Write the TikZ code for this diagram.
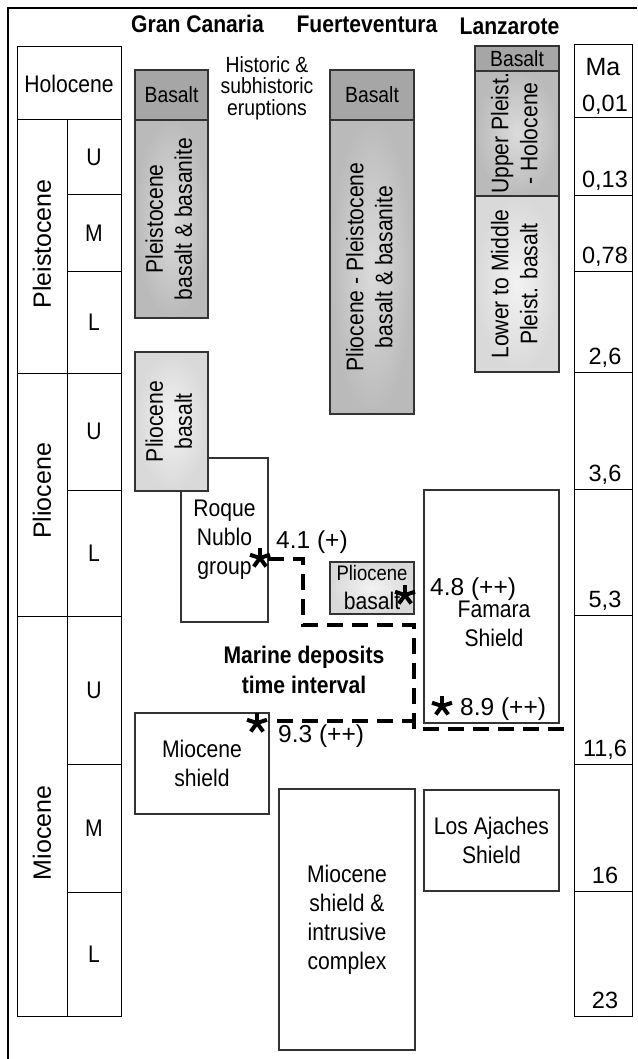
\documentclass[tikz,border=0pt]{standalone}
\usepackage{fontspec}
\setmainfont{Liberation Sans}[FakeStretch=0.88]
\newfontfamily\widefont{Liberation Sans}
\usepackage{graphicx}
\newcommand{\rottext}[1]{\rotatebox{90}{\begin{tabular}{@{}c@{}}#1\end{tabular}}}
\newcommand{\bx}[7]{\node[#1, minimum width={(#5-#3)*1pt}, minimum height={(#6-#4)*1pt}] (#2) at ({(#3+#5)/2},{(#4+#6)/2}) {#7};}
\tikzset{
  cell/.style={draw=black, line width=1pt, inner sep=0pt, outer sep=0pt, align=center, font=\fontsize{24}{29}\selectfont},
  unit/.style={draw=black!80, line width=1.3pt, inner sep=0pt, outer sep=0pt, align=center, font=\fontsize{24}{29}\selectfont},
  darkunit/.style={unit, fill=black!35, font=\fontsize{22}{26}\selectfont},
  medunit/.style={unit, inner color=black!14, outer color=black!27},
  lightunit/.style={unit, inner color=black!5, outer color=black!15},
  whiteunit/.style={unit, fill=white},
  head/.style={inner sep=0pt, font=\bfseries\fontsize{24}{29}\selectfont},
  epoch/.style={inner sep=0pt, font=\widefont\fontsize{25}{30}\selectfont},
  numlab/.style={inner sep=0pt, anchor=base, font=\widefont\fontsize{23.5}{27}\selectfont},
  agelab/.style={inner sep=0pt, anchor=base west, font=\widefont\fontsize{24.5}{28}\selectfont},
  plain/.style={inner sep=0pt, align=center, font=\fontsize{24}{29}\selectfont},
  dashline/.style={line width=3.3pt, dash pattern=on 16pt off 9pt},
  aster/.pic={\foreach \a in {90,162,18,234,306} \draw[line width=4pt] (0,0) -- (\a:10.5pt);}
}
\begin{document}
\begin{tikzpicture}[x=1pt,y=-1pt]
\useasboundingbox (0,0) rectangle (637,1059);
\fill[white] (0,0) rectangle (637,1059);
\draw[line width=2.5pt] (8,1059) -- (8,8) -- (637,8);

% headings
\node[head, anchor=base] (hgc) at (197.5,33) {Gran Canaria};
\node[head, anchor=base] (hfv) at (367,33) {Fuerteventura};
\node[head, anchor=base] (hlz) at (509.5,35) {Lanzarote};

% time scale (left)
\bx{cell}{holo}{17}{47}{121}{120}{Holocene}
\bx{cell}{pleis}{17}{120}{67}{373}{}
\bx{cell}{pleisU}{67}{120}{121}{195}{U}
\bx{cell}{pleisM}{67}{195}{121}{271}{M}
\bx{cell}{pleisL}{67}{271}{121}{373}{L}
\bx{cell}{plio}{17}{373}{67}{616}{}
\bx{cell}{plioU}{67}{373}{121}{490}{U}
\bx{cell}{plioL}{67}{490}{121}{616}{L}
\bx{cell}{mio}{17}{616}{67}{1016}{}
\bx{cell}{mioU}{67}{616}{121}{764}{U}
\bx{cell}{mioM}{67}{764}{121}{892}{M}
\bx{cell}{mioL}{67}{892}{121}{1016}{L}
\node[epoch, rotate=90] (lpleis) at (42,244) {Pleistocene};
\node[epoch, rotate=90] (lplio) at (42,491) {Pliocene};
\node[epoch, rotate=90] (lmio) at (42,833) {Miocene};

% Ma column
\bx{cell}{ma1}{574.5}{45}{632}{118}{}
\bx{cell}{ma2}{574.5}{118}{632}{196}{}
\bx{cell}{ma3}{574.5}{196}{632}{271}{}
\bx{cell}{ma4}{574.5}{271}{632}{372}{}
\bx{cell}{ma5}{574.5}{372}{632}{489}{}
\bx{cell}{ma6}{574.5}{489}{632}{615}{}
\bx{cell}{ma7}{574.5}{615}{632}{764}{}
\bx{cell}{ma8}{574.5}{764}{632}{891}{}
\bx{cell}{ma9}{574.5}{891}{632}{1016}{}
\node[inner sep=0pt, font=\widefont\fontsize{25}{28}\selectfont] (mahead) at (603,67) {Ma};
\node[numlab] (n1) at (605,112) {0,01};
\node[numlab] (n2) at (605,188) {0,13};
\node[numlab] (n3) at (605,263) {0,78};
\node[numlab] (n4) at (605,364) {2,6};
\node[numlab] (n5) at (605,481) {3,6};
\node[numlab] (n6) at (605,607) {5,3};
\node[numlab] (n7) at (605,756) {11,6};
\node[numlab] (n8) at (605,883) {16};
\node[numlab] (n9) at (605,1008) {23};

% Gran Canaria
\bx{darkunit}{gcbas}{135}{70}{208}{120}{Basalt}
\bx{medunit}{gcpls}{135}{120}{208}{318}{\rottext{Pleistocene\\basalt \& basanite}}
\bx{whiteunit}{roque}{181}{458}{268}{622}{Roque\\Nublo\\group}
\bx{lightunit}{gcplb}{135}{352}{208}{491}{\rottext{Pliocene\\basalt}}
\bx{whiteunit}{mioshield}{135}{713}{269}{814}{Miocene\\shield}
\bx{whiteunit}{mioint}{279}{789}{415}{1050}{Miocene\\shield \&\\intrusive\\complex}
\node[inner sep=0pt, align=center, font=\fontsize{22}{21.5}\selectfont] (hist) at (267,88) {Historic \&\\subhistoric\\eruptions};

% Fuerteventura
\bx{darkunit}{fvbas}{330}{70}{414}{120}{Basalt}
\bx{medunit}{fvpp}{330}{120}{414}{414}{\rottext{Pliocene - Pleistocene\\basalt \& basanite}}
\bx{lightunit}{fvplb}{330}{562}{414}{614}{\fontsize{21}{25}\selectfont Pliocene\\basalt}

% Lanzarote
\bx{darkunit}{lzbas}{475}{46}{559}{71}{Basalt}
\bx{medunit}{lzup}{475}{71}{559}{196}{\rottext{Upper Pleist.\\- Holocene}}
\bx{lightunit}{lzlow}{475}{196}{559}{372}{\rottext{Lower to Middle\\Pleist. basalt}}
\bx{whiteunit}{famara}{424}{490}{559}{723}{}
\node[plain] (famtext) at (494,624) {Famara\\Shield};
\bx{whiteunit}{ajaches}{424}{790}{559}{891}{Los Ajaches\\Shield}

% marine deposits interval
\node[inner sep=0pt, align=center, font=\bfseries\fontsize{24}{30}\selectfont] (marine) at (304,670) {Marine deposits\\time interval};

\coordinate (sRN) at (260,558);
\coordinate (sFV) at (405,595);
\coordinate (sFA) at (442,706);
\coordinate (sMS) at (257,723);
\pic at (sRN) {aster};
\pic at (sFV) {aster};
\pic at (sFA) {aster};
\pic at (sMS) {aster};

\coordinate (p0) at (268,559);
\coordinate (p1) at (303,559);
\coordinate (p2) at (303,625);
\coordinate (p3) at (414,625);
\coordinate (p4) at (414,729);
\coordinate (p5) at (569,729);
\coordinate (q0) at (277,721);
\coordinate (q1) at (414,721);
\draw[dashline] (p0) -- (p1) -- (p2) -- (p3) -- (p4) -- (p5);
\draw[dashline] (q0) -- (q1);

\node[agelab] (a41) at (276,548) {4.1 (+)};
\node[agelab] (a48) at (430,595) {4.8 (++)};
\node[agelab] (a89) at (460,715) {8.9 (++)};
\node[agelab] (a93) at (278,742) {9.3 (++)};
\end{tikzpicture}
\end{document}
